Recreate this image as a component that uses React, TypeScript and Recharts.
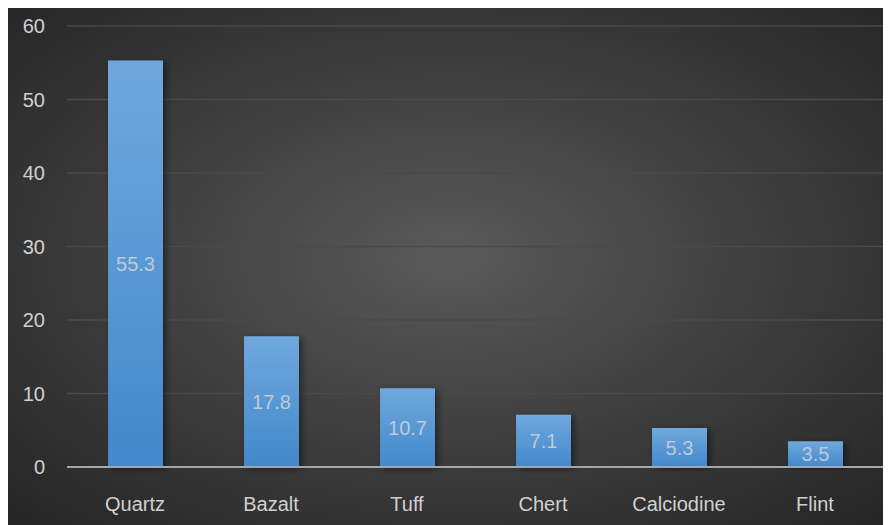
import React from "react";
import { BarChart, Bar, XAxis, YAxis, CartesianGrid, LabelList } from "recharts";

const categories = ["Quartz", "Bazalt", "Tuff", "Chert", "Calciodine", "Flint"];
const values = [55.3, 17.8, 10.7, 7.1, 5.3, 3.5];
const yTicks = [0, 10, 20, 30, 40, 50, 60];

const data = categories.map((name, i) => ({ name, value: values[i] }));

const FONT = "'Liberation Sans', 'Open Sans', sans-serif";

export default function App() {
  return (
    <div
      style={{
        width: 883,
        height: 518,
        background:
          "radial-gradient(ellipse 70% 70% at 50% 48%, #5a5a5a 0%, #3c3c3c 55%, #262626 100%)",
        fontFamily: FONT,
      }}
    >
      <BarChart
        width={883}
        height={518}
        data={data}
        margin={{ top: 18, right: 8, bottom: 29, left: 0 }}
        barSize={55}
      >
        <defs>
          <linearGradient id="barGrad" x1="0" y1="0" x2="0" y2="1">
            <stop offset="0%" stopColor="#6fa8dd" />
            <stop offset="100%" stopColor="#4388cb" />
          </linearGradient>
          <filter id="shadow" x="-20%" y="-10%" width="150%" height="120%">
            <feDropShadow dx="3" dy="2" stdDeviation="3" floodColor="#000" floodOpacity="0.45" />
          </filter>
        </defs>
        <CartesianGrid vertical={false} stroke="#4a4a4a" strokeWidth={1.3} />
        <XAxis
          dataKey="name"
          axisLine={{ stroke: "#a6a6a6", strokeWidth: 2 }}
          tickLine={false}
          tickSize={0}
          tickMargin={30}
          tick={{ fill: "#d0d0d0", fontSize: 20, fontFamily: FONT }}
          interval={0}
        />
        <YAxis
          width={59}
          domain={[0, 60]}
          ticks={yTicks}
          axisLine={false}
          tickLine={false}
          tickSize={0}
          tickMargin={22}
          tick={{ fill: "#d0d0d0", fontSize: 20, fontFamily: FONT }}
        />
        <Bar
          dataKey="value"
          fill="url(#barGrad)"
          filter="url(#shadow)"
          isAnimationActive={false}
        >
          <LabelList
            dataKey="value"
            position="center"
            fill="#bfcad6"
            fontSize={20}
            fontFamily={FONT}
          />
        </Bar>
      </BarChart>
    </div>
  );
}
